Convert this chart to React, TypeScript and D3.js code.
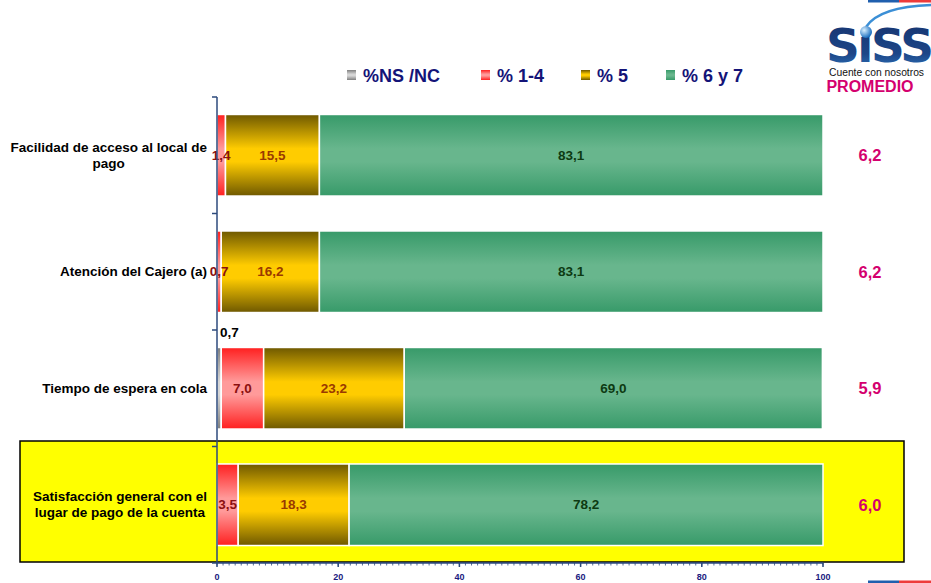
import React, { useEffect, useRef } from "react";
import * as d3 from "d3";

const categoryLines: string[][] = [
  ["Facilidad de acceso al local de", "pago"],
  ["Atención del Cajero (a)"],
  ["Tiempo de espera en cola"],
  ["Satisfacción general con el", "lugar de pago de la cuenta"],
];
const categories = categoryLines.map((l) => l.join(" "));
const seriesNames = ["%NS /NC", "% 1-4", "% 5", "% 6 y 7"];
const seriesKeys = ["ns", "low", "mid", "high"];
const nsnc = [0, 0, 0.7, 0];
const low = [1.4, 0.7, 7.0, 3.5];
const mid = [15.5, 16.2, 23.2, 18.3];
const high = [83.1, 83.1, 69.0, 78.2];
const promedio = [6.2, 6.2, 5.9, 6.0];
const xTicks = [0, 20, 40, 60, 80, 100];

const W = 931;
const H = 583;
const FONT = "'Liberation Sans', Arial, sans-serif";

const grads: Record<string, [string, string]> = {
  ns: ["#7f7f7f", "#d6d6d6"],
  low: ["#ff1f1f", "#ff9a9a"],
  mid: ["#6e5800", "#ffcc00"],
  high: ["#379a69", "#68b68d"],
};
const labelColors: Record<string, string> = {
  ns: "#000000",
  low: "#8b1010",
  mid: "#9a3a00",
  high: "#0d3a12",
};

const fmt = (v: number) => d3.format(".1f")(v).replace(".", ",");

export default function App() {
  const ref = useRef<SVGSVGElement>(null);

  useEffect(() => {
    const svg = d3.select(ref.current);
    svg.selectAll("*").remove();

    const defs = svg.append("defs");
    Object.entries(grads).forEach(([k, [edge, mid]]) => {
      const g = defs
        .append("linearGradient")
        .attr("id", "g-" + k)
        .attr("x1", 0)
        .attr("y1", 0)
        .attr("x2", 0)
        .attr("y2", 1);
      g.append("stop").attr("offset", "0%").attr("stop-color", edge);
      g.append("stop").attr("offset", "42%").attr("stop-color", mid);
      g.append("stop").attr("offset", "58%").attr("stop-color", mid);
      g.append("stop").attr("offset", "100%").attr("stop-color", edge);
    });
    const logoG = defs
      .append("linearGradient")
      .attr("id", "logo")
      .attr("x1", 0)
      .attr("y1", 0)
      .attr("x2", 0)
      .attr("y2", 1);
    logoG.append("stop").attr("offset", "0%").attr("stop-color", "#16336e");
    logoG.append("stop").attr("offset", "65%").attr("stop-color", "#1d4688");
    logoG.append("stop").attr("offset", "100%").attr("stop-color", "#2f78c0");
    const ball = defs
      .append("radialGradient")
      .attr("id", "ball")
      .attr("cx", "35%")
      .attr("cy", "35%")
      .attr("r", "65%");
    ball.append("stop").attr("offset", "0%").attr("stop-color", "#d8f0ff");
    ball.append("stop").attr("offset", "100%").attr("stop-color", "#1d6fc0");

    const x = d3.scaleLinear().domain([0, 100]).range([217, 823]);
    const y = d3
      .scaleBand<string>()
      .domain(categories)
      .range([97, 563])
      .paddingInner(0.3)
      .paddingOuter(0.15);

    const rows = categories.map((c, i) => ({
      cat: c,
      ns: nsnc[i],
      low: low[i],
      mid: mid[i],
      high: high[i],
    }));
    const stacked = d3.stack<any>().keys(seriesKeys)(rows);

    // highlight box
    svg
      .append("rect")
      .attr("x", 20)
      .attr("y", 441)
      .attr("width", 884)
      .attr("height", 121)
      .attr("fill", "#ffff00")
      .attr("stroke", "#000")
      .attr("stroke-width", 1.5);

    // bars
    const bars = svg.append("g");
    stacked.forEach((layer) => {
      const k = layer.key;
      layer.forEach((d: any) => {
        const v = d[1] - d[0];
        if (v <= 0) return;
        bars
          .append("rect")
          .attr("x", x(d[0]))
          .attr("y", y(d.data.cat)!)
          .attr("width", x(d[1]) - x(d[0]))
          .attr("height", y.bandwidth())
          .attr("fill", `url(#g-${k})`)
          .attr("stroke", "#ffffff")
          .attr("stroke-width", 1.5);
      });
    });

    // labels
    const labels = svg.append("g").attr("font-family", FONT).attr("font-weight", "bold");
    stacked.forEach((layer) => {
      const k = layer.key;
      layer.forEach((d: any) => {
        const v = d[1] - d[0];
        if (v <= 0) return;
        const cy = y(d.data.cat)! + y.bandwidth() / 2;
        if (k === "ns") {
          labels
            .append("text")
            .attr("x", x(d[0]) + 3)
            .attr("y", y(d.data.cat)! - 10)
            .attr("font-size", 13.5)
            .attr("fill", labelColors[k])
            .text(fmt(v));
        } else {
          labels
            .append("text")
            .attr("x", (x(d[0]) + x(d[1])) / 2)
            .attr("y", cy)
            .attr("dy", "0.35em")
            .attr("text-anchor", "middle")
            .attr("font-size", 13.5)
            .attr("fill", labelColors[k])
            .text(fmt(v));
        }
      });
    });

    // promedio
    svg
      .append("text")
      .attr("x", 870)
      .attr("y", 92)
      .attr("text-anchor", "middle")
      .attr("font-family", FONT)
      .attr("font-weight", "bold")
      .attr("font-size", 16)
      .attr("fill", "#d4006e")
      .text("PROMEDIO");
    categories.forEach((c, i) => {
      svg
        .append("text")
        .attr("x", 870)
        .attr("y", y(c)! + y.bandwidth() / 2)
        .attr("dy", "0.35em")
        .attr("text-anchor", "middle")
        .attr("font-family", FONT)
        .attr("font-weight", "bold")
        .attr("font-size", 16.5)
        .attr("fill", "#d4006e")
        .text(fmt(promedio[i]));
    });

    // category labels (block right aligned, lines centered)
    categories.forEach((c, i) => {
      const lines = categoryLines[i];
      const g = svg
        .append("g")
        .attr("font-family", FONT)
        .attr("font-weight", "bold")
        .attr("font-size", 13.5)
        .attr("fill", "#000");
      const cy = y(c)! + y.bandwidth() / 2;
      const lh = 16;
      const texts = lines.map((l, j) =>
        g
          .append("text")
          .attr("y", cy + (j - (lines.length - 1) / 2) * lh)
          .attr("dy", "0.35em")
          .attr("text-anchor", "middle")
          .text(l)
      );
      const maxW = d3.max(texts, (t) => (t.node() as SVGTextElement).getComputedTextLength()) || 0;
      texts.forEach((t) => t.attr("x", 207 - maxW / 2));
    });

    // axes
    const axisColor = "#2c4a7c";
    const ax = svg.append("g");
    ax.append("line")
      .attr("x1", 217)
      .attr("x2", 217)
      .attr("y1", 97)
      .attr("y2", 563)
      .attr("stroke", axisColor)
      .attr("stroke-width", 1.5);
    const bounds = categories.map((c) => y(c)! - y.step() * y.paddingInner() / 2);
    [97, ...bounds.slice(1), 563].forEach((b) => {
      ax.append("line")
        .attr("x1", 212)
        .attr("x2", 217)
        .attr("y1", b)
        .attr("y2", b)
        .attr("stroke", axisColor)
        .attr("stroke-width", 1.5);
    });
    ax.append("line")
      .attr("x1", 217)
      .attr("x2", 823)
      .attr("y1", 563)
      .attr("y2", 563)
      .attr("stroke", axisColor)
      .attr("stroke-width", 1.5);
    d3.range(0, 101, 1).forEach((t) => {
      ax.append("line")
        .attr("x1", x(t))
        .attr("x2", x(t))
        .attr("y1", 563)
        .attr("y2", 565.5)
        .attr("stroke", axisColor)
        .attr("stroke-width", 0.8);
    });
    xTicks.forEach((t) => {
      ax.append("line")
        .attr("x1", x(t))
        .attr("x2", x(t))
        .attr("y1", 563)
        .attr("y2", 567)
        .attr("stroke", axisColor)
        .attr("stroke-width", 1.5);
      ax.append("text")
        .attr("x", x(t))
        .attr("y", 580)
        .attr("text-anchor", "middle")
        .attr("font-family", FONT)
        .attr("font-weight", "bold")
        .attr("font-size", 9)
        .attr("fill", "#1a1a80")
        .text(String(t));
    });

    // legend
    const legendX = [347, 481, 581, 666];
    const lg = svg.append("g");
    seriesKeys.forEach((k, i) => {
      lg.append("rect")
        .attr("x", legendX[i])
        .attr("y", 70)
        .attr("width", 9)
        .attr("height", 10)
        .attr("fill", `url(#g-${k})`);
      lg.append("text")
        .attr("x", legendX[i] + 16)
        .attr("y", 82)
        .attr("font-family", FONT)
        .attr("font-weight", "bold")
        .attr("font-size", 18)
        .attr("fill", "#141478")
        .text(seriesNames[i]);
    });

    // logo
    const logo = svg.append("g");
    logo.append("rect").attr("x", 868).attr("y", 0).attr("width", 31).attr("height", 2.5).attr("fill", "#1f5fae");
    logo.append("rect").attr("x", 899).attr("y", 0).attr("width", 32).attr("height", 2.5).attr("fill", "#ee3b3b");
    logo.append("rect").attr("x", 868).attr("y", 580.5).attr("width", 31).attr("height", 2.5).attr("fill", "#1f5fae");
    logo.append("rect").attr("x", 899).attr("y", 580.5).attr("width", 32).attr("height", 2.5).attr("fill", "#ee3b3b");
    logo.append("path")
      .attr("d", "M866,27 Q880,6 935,5")
      .attr("fill", "none")
      .attr("stroke", "#3b8fd6")
      .attr("stroke-width", 2.5);
    logo.append("text")
      .attr("x", 826)
      .attr("y", 62)
      .attr("font-family", "'DejaVu Sans', sans-serif")
      .attr("font-weight", "bold")
      .attr("font-size", 47)
      .attr("letter-spacing", -2.5)
      .attr("fill", "url(#logo)")
      .text("S\u0131SS");
    logo.append("circle").attr("cx", 866).attr("cy", 32).attr("r", 6).attr("fill", "url(#ball)");
    logo.append("text")
      .attr("x", 829)
      .attr("y", 76)
      .attr("font-family", FONT)
      .attr("font-size", 10.3)
      .attr("fill", "#111")
      .text("Cuente con nosotros");
  }, []);

  return (
    <svg
      ref={ref}
      width={W}
      height={H}
      style={{ position: "absolute", left: 0, top: 0, background: "#fff", display: "block" }}
    />
  );
}
